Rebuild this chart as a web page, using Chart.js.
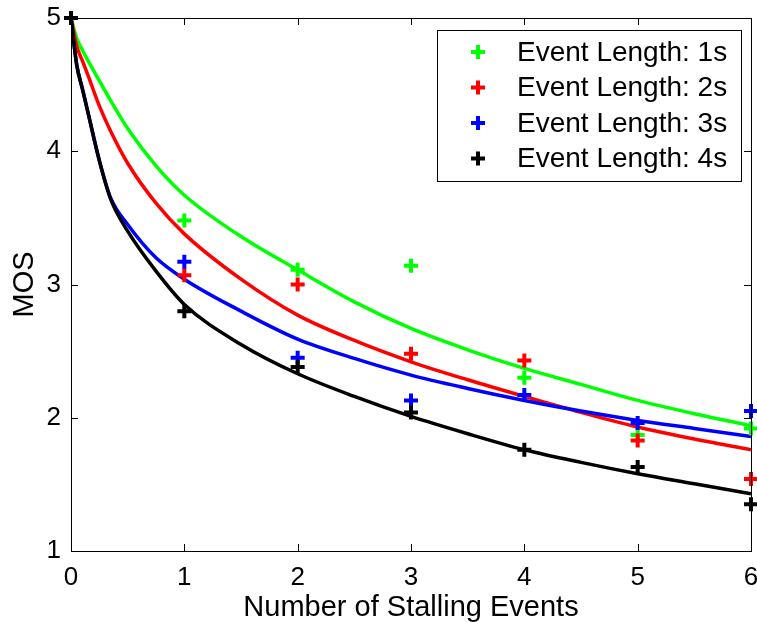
<!DOCTYPE html>
<html lang="en">
<head>
  <meta charset="UTF-8" />
  <title>MOS vs Number of Stalling Events</title>
  <script src="https://cdn.jsdelivr.net/npm/chart.js"></script>
  <style>
    html, body {
      margin: 0;
      padding: 0;
      background: #fff;
      overflow: hidden;
    }
    #wrap {
      position: relative;
      width: 757px;
      height: 622px;
      overflow: hidden;
    }
    #mosChart {
      display: block;
    }
  </style>
</head>
<body>
  <!-- canvas is a bit wider than the page: chart.js keeps room for the last x label -->
  <div id="wrap"><canvas id="mosChart" width="762" height="622"></canvas></div>

  <script>
    // measured points (MOS per number of stalling events)
    const stallCounts = [0, 1, 2, 3, 4, 5, 6];
    const mos1s = [5, 3.48, 3.11, 3.14, 2.30, 1.87, 1.92];
    const mos2s = [5, 3.07, 3.00, 2.48, 2.43, 1.83, 1.54];
    const mos3s = [5, 3.17, 2.45, 2.13, 2.17, 1.96, 2.05];
    const mos4s = [5, 2.80, 2.38, 2.04, 1.76, 1.63, 1.35];

    // fitted curves
    const fitX = [0, 0.05, 0.1, 0.15, 0.25, 0.35, 0.5, 0.75, 1, 1.5, 2, 2.5, 3, 3.5, 4, 4.5, 5, 5.5, 6];
    const fit1s = [5, 4.85, 4.76, 4.68, 4.53, 4.38, 4.17, 3.89, 3.67, 3.36, 3.11, 2.87, 2.67, 2.51, 2.37, 2.25, 2.13, 2.03, 1.94];
    const fit2s = [5, 4.79, 4.68, 4.57, 4.34, 4.15, 3.91, 3.61, 3.38, 3.04, 2.77, 2.58, 2.42, 2.285, 2.16, 2.04, 1.93, 1.84, 1.76];
    const fit3s = [5, 4.65, 4.47, 4.29, 3.93, 3.65, 3.45, 3.20, 3.04, 2.80, 2.59, 2.445, 2.32, 2.22, 2.13, 2.05, 1.98, 1.92, 1.86];
    const fit4s = [5, 4.65, 4.47, 4.29, 3.93, 3.64, 3.40, 3.10, 2.85, 2.55, 2.33, 2.16, 2.01, 1.88, 1.76, 1.665, 1.58, 1.505, 1.43];

    const seriesLabels = ['Event Length: 1s', 'Event Length: 2s', 'Event Length: 3s', 'Event Length: 4s'];
    const xTicks = [0, 1, 2, 3, 4, 5, 6];
    const yTicks = [1, 2, 3, 4, 5];

    const colors = ['#00ff00', '#ff0000', '#0000ff', '#000000'];
    const measured = [mos1s, mos2s, mos3s, mos4s];
    const fits = [fit1s, fit2s, fit3s, fit4s];

    const toXY = (xs, ys) => xs.map((x, i) => ({ x: x, y: ys[i] }));

    const datasets = [];
    fits.forEach((f, i) => {
      datasets.push({
        label: seriesLabels[i] + ' fit',
        data: toXY(fitX, f),
        showLine: true,
        borderColor: colors[i],
        borderWidth: 3.5,
        pointRadius: 0,
        cubicInterpolationMode: 'monotone',
        order: 10 + (3 - i)
      });
    });
    measured.forEach((m, i) => {
      datasets.push({
        label: seriesLabels[i],
        data: toXY(stallCounts, m),
        showLine: false,
        pointStyle: 'cross',
        pointRadius: 7,
        pointHoverRadius: 7,
        borderColor: colors[i],
        backgroundColor: colors[i],
        pointBorderWidth: 4,
        clip: false,
        order: 3 - i
      });
    });

    // matlab style box with inward ticks + legend
    const boxPlugin = {
      id: 'box',
      afterDraw(chart) {
        const { ctx, chartArea: a, scales } = chart;
        ctx.save();
        ctx.strokeStyle = '#000';
        ctx.lineWidth = 1;
        ctx.strokeRect(a.left + 0.5, a.top + 0.5, a.right - a.left, a.bottom - a.top);
        ctx.beginPath();
        xTicks.forEach(v => {
          const px = Math.round(scales.x.getPixelForValue(v)) + 0.5;
          ctx.moveTo(px, a.bottom); ctx.lineTo(px, a.bottom - 7);
          ctx.moveTo(px, a.top); ctx.lineTo(px, a.top + 7);
        });
        yTicks.forEach(v => {
          const py = Math.round(scales.y.getPixelForValue(v)) + 0.5;
          ctx.moveTo(a.left, py); ctx.lineTo(a.left + 7, py);
          ctx.moveTo(a.right, py); ctx.lineTo(a.right - 7, py);
        });
        ctx.stroke();

        const lx = 437, ly = 30, lw = 304, lh = 151;
        ctx.fillStyle = '#fff';
        ctx.fillRect(lx, ly, lw, lh);
        ctx.strokeRect(lx + 0.5, ly + 0.5, lw, lh);
        ctx.font = '28px "Liberation Sans", Arial, sans-serif';
        ctx.textBaseline = 'middle';
        seriesLabels.forEach((t, i) => {
          const cy = 52 + i * 35.5;
          ctx.strokeStyle = colors[i];
          ctx.lineWidth = 4;
          ctx.beginPath();
          ctx.moveTo(471, cy); ctx.lineTo(485, cy);
          ctx.moveTo(478, cy - 7); ctx.lineTo(478, cy + 7);
          ctx.stroke();
          ctx.fillStyle = '#000';
          ctx.fillText(t, 517, cy + 1);
        });
        ctx.restore();
      }
    };

    const tickFont = { family: '"Liberation Sans", Arial, sans-serif', size: 26 };
    const titleFont = { family: '"Liberation Sans", Arial, sans-serif', size: 29 };

    new Chart(document.getElementById('mosChart'), {
      type: 'scatter',
      data: { datasets: datasets },
      options: {
        responsive: false,
        animation: false,
        layout: { padding: { top: 18, right: 7, left: 0, bottom: 0 } },
        plugins: {
          legend: { display: false },
          tooltip: { enabled: false }
        },
        scales: {
          x: {
            type: 'linear',
            min: 0,
            max: 6,
            afterFit: s => { s.height = 71; s.paddingLeft = 0; s.paddingRight = 0; },
            afterBuildTicks: s => { s.ticks = xTicks.map(v => ({ value: v })); },
            grid: { display: false, drawTicks: false },
            border: { display: false },
            ticks: { color: '#000', font: tickFont, padding: 11, maxRotation: 0 },
            title: { display: true, text: 'Number of Stalling Events', color: '#000', font: titleFont, padding: { top: 0, bottom: -3 } }
          },
          y: {
            type: 'linear',
            min: 1,
            max: 5,
            afterFit: s => { s.width = 71; s.paddingTop = 0; s.paddingBottom = 0; },
            afterBuildTicks: s => { s.ticks = yTicks.map(v => ({ value: v })); },
            grid: { display: false, drawTicks: false },
            border: { display: false },
            ticks: { color: '#000', font: tickFont, padding: 10 },
            title: { display: true, text: 'MOS', color: '#000', font: titleFont, padding: { top: 8, bottom: 0 } }
          }
        }
      },
      plugins: [boxPlugin]
    });
  </script>
</body>
</html>
